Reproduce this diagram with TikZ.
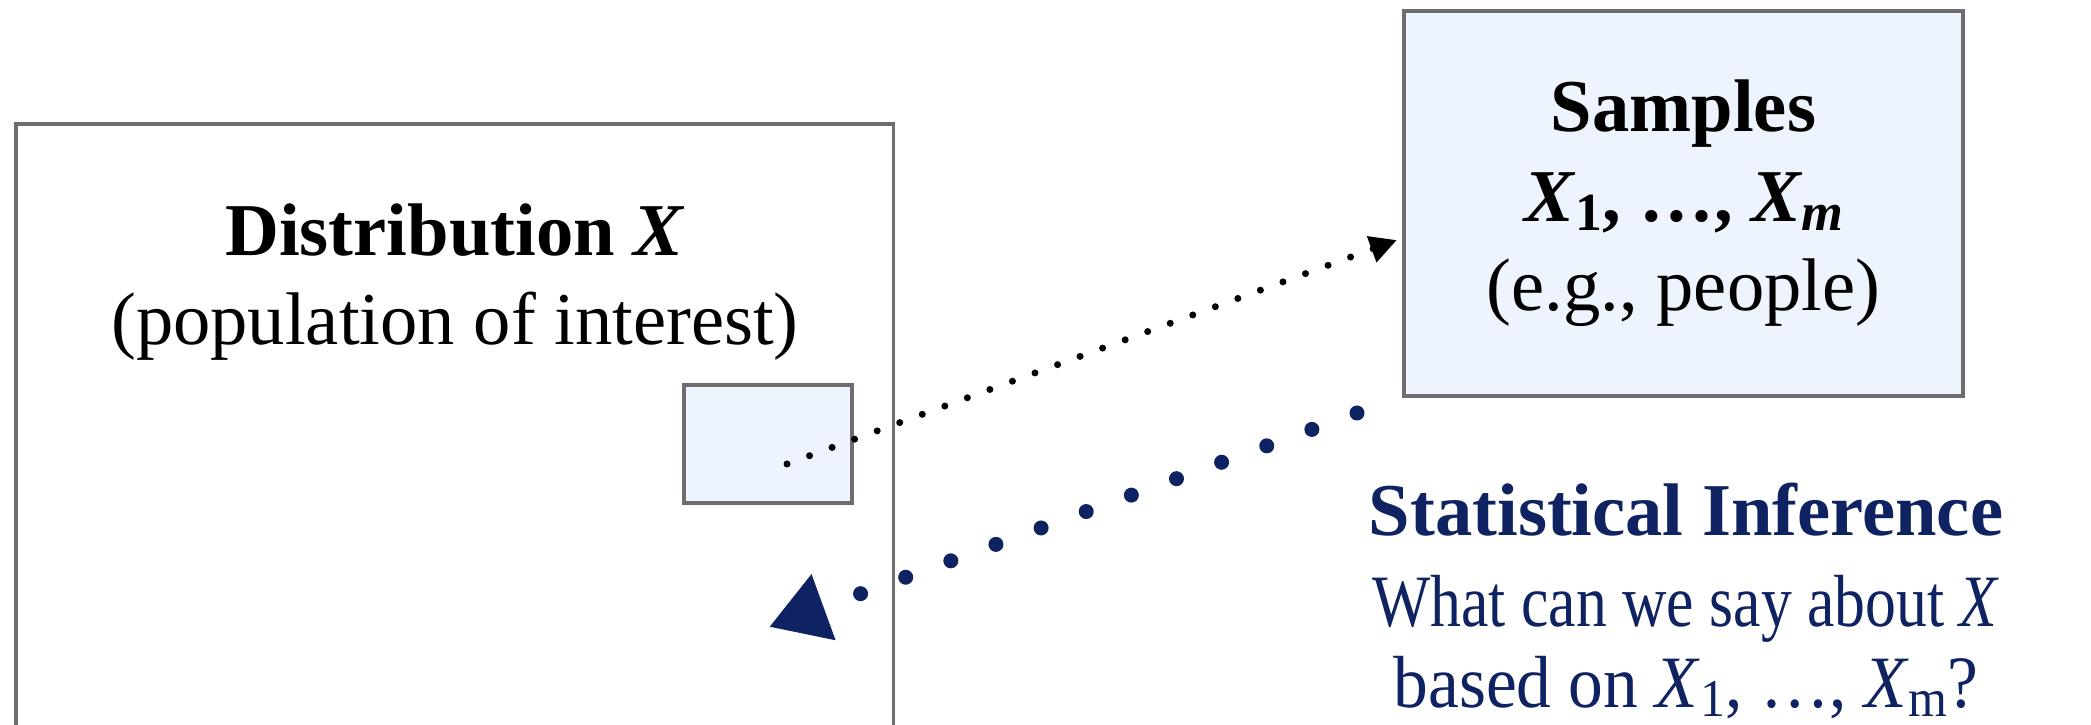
\documentclass[tikz,border=0pt]{standalone}
\usepackage{fontspec}
\usepackage{graphicx}
\setmainfont{Liberation Serif}
\usetikzlibrary{arrows.meta}
\definecolor{navy}{HTML}{0F2261}
\definecolor{boxfill}{HTML}{EEF4FD}
\definecolor{boxline}{HTML}{6E6E6E}
\newcommand{\sbs}[1]{\raisebox{-0.12em}{\scalebox{0.72}{#1}}}
\begin{document}
\begin{tikzpicture}[x=0.01cm,y=-0.01cm,
  box/.style={draw=boxline, line width=1pt, fill=boxfill, inner sep=0pt},
  bigfont/.style={font=\fontsize{21.2pt}{25.5pt}\selectfont, align=center},
  blackdots/.style={line width=0.07cm, line cap=round, dash pattern=on 0pt off 0.24cm,
     -{Triangle[length=0.27cm,width=0.26cm]}},
  bluedots/.style={navy, line width=0.15cm, line cap=round, dash pattern=on 0pt off 0.48cm,
     -{Triangle[length=0.58cm,width=0.66cm]}}]
\useasboundingbox (0,0) rectangle (2091,725);
\clip (0,0) rectangle (2091,725);
% big distribution box
\node[box, fill=white, minimum width=8.77cm, minimum height=6.6cm] (dist) at (454.5,454) {};
\node[bigfont] (disttext) at (455,282) {\textbf{Distribution \textit{X}}\\(population of interest)};
% small sample box
\node[box, minimum width=1.68cm, minimum height=1.18cm] (small) at (768,444) {};
% samples box
\node[box, bigfont, minimum width=5.59cm, minimum height=3.85cm] (samp) at (1683.5,203.5)
  {\textbf{Samples}\\\textbf{\textit{X}\sbs{1}, \ldots, \textit{X\sbs{m}}}\\(e.g., people)};
% inference text
\node[bigfont, text=navy] (infer) at (1686,601)
  {\textbf{Statistical Inference}\\[0.5pt]
   {\fontsize{21pt}{25pt}\selectfont\scalebox{0.835}[1]{What can we say about \textit{X}}}\\[-2.5pt]
   {\fontsize{21pt}{25pt}\selectfont\scalebox{0.94}[1]{based on \textit{X}\sbs{1}, \ldots, \textit{X}\sbs{m}?}}};
% connectors
\coordinate (s1) at (787,464);
\coordinate (e1) at (1397,240);
\coordinate (s2) at (1357,413);
\coordinate (e2) at (769,627);
\draw[blackdots] (s1) -- (e1);
\draw[bluedots] (s2) -- (e2);
\end{tikzpicture}
\end{document}
